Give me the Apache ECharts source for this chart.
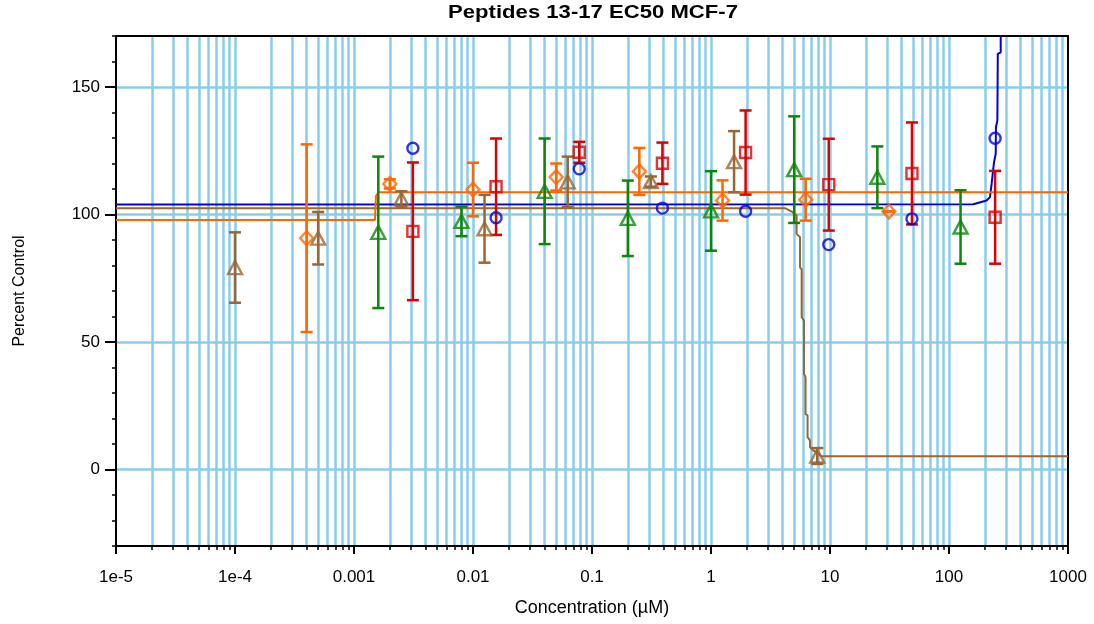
<!DOCTYPE html>
<html>
<head>
<meta charset="utf-8">
<script src="https://cdn.jsdelivr.net/npm/echarts@6/dist/echarts.min.js"></script>
<style>html,body{margin:0;padding:0;background:#fff}#c{width:1094px;height:624px}</style>
</head>
<body>
<div id="c"></div>
<script>
// ---- data ----
const titleText = 'Peptides 13-17 EC50 MCF-7';
const xName = 'Concentration (µM)';
const yName = 'Percent Control';
const xTickLabels = ['1e-5', '1e-4', '0.001', '0.01', '0.1', '1', '10', '100', '1000'];
const yTickValues = [0, 50, 100, 150];

// blue circles
const blueX = [0.003125, 0.015625, 0.078125, 0.390625, 1.953125, 9.765625, 48.828125, 244.140625];
const blueY = [126.0, 98.7, 117.9, 102.5, 101.3, 88.2, 98.3, 129.9];
// red squares
const redX = [0.003125, 0.015625, 0.078125, 0.390625, 1.953125, 9.765625, 48.828125, 244.140625];
const redY = [93.4, 110.9, 124.4, 120.1, 124.3, 111.7, 116.1, 98.9];
const redErr = [27.0, 18.9, 4.1, 8.1, 16.5, 18.0, 20.0, 18.2];
// green triangles
const greenX = [0.0016, 0.008, 0.04, 0.2, 1, 5, 25, 125];
const greenY = [93.0, 97.3, 109.1, 98.5, 101.4, 117.6, 114.6, 95.1];
const greenErr = [29.7, 5.8, 20.7, 14.8, 15.6, 20.9, 12.1, 14.4];
// orange diamonds
const orangeX = [0.0004, 0.002, 0.01, 0.05, 0.25, 1.25, 6.25, 31.25];
const orangeY = [90.7, 112.0, 109.8, 114.7, 116.9, 105.5, 105.8, 101.2];
const orangeErr = [36.8, 1.8, 10.5, 5.3, 9.2, 7.9, 8.2, 0];
// brown triangles
const brownX = [0.0001, 0.0005, 0.0025, 0.0125, 0.0625, 0.3125, 1.5625, 7.8125];
const brownY = [79.2, 90.7, 106.1, 94.4, 112.8, 112.9, 120.7, 5.3];
const brownErr = [13.8, 10.3, 3.0, 13.3, 9.9, 2.0, 12.0, 3.1];

// fitted curves (as drawn in the reference)
const blueFitX = [1e-5, 160, 207, 221, 228, 239, 247, 248, 255, 257, 272, 272];
const blueFitY = [103.9, 104.0, 105.5, 106.8, 112.0, 120.5, 123.8, 134.2, 136.9, 163.0, 163.6, 180];
const brownFitX = [1e-5, 4.19, 4.86, 5.24, 5.24, 5.6, 5.6, 5.78, 5.78, 6.05, 6.05, 6.23, 6.23, 6.48, 6.48, 6.79, 6.79, 7.25, 8.5, 1000];
const brownFitY = [102.5, 102.5, 100.9, 99.6, 92.4, 91.1, 79.3, 78.5, 59.7, 58.4, 37.5, 36.2, 21.8, 21.2, 12.7, 11.4, 8.7, 7.5, 5.2, 5.2];
const orangeFitX = [1e-5, 0.0015, 0.00153, 0.0016, 1000];
const orangeFitY = [97.8, 97.8, 107.2, 108.7, 108.7];

// ---- styles ----
const C = { blue: '#0000dd', red: '#dd0000', green: '#0a870a', orange: '#ff6600', brown: '#9a6634', grid: '#87ceeb' };
const FONT = '"Liberation Sans", Arial, sans-serif';

const zip = (xs, ys) => xs.map((x, i) => [x, ys[i]]);
const errData = (xs, ys, es) => xs.map((x, i) => [x, ys[i] - es[i], ys[i] + es[i]]);

// log grid positions 1..9 x 10^k
const logGrid = [];
for (let k = -5; k <= 2; k++) {
  for (let m = 1; m <= 9; m++) {
    const v = +(m * Math.pow(10, k)).toPrecision(3);
    if (v > 1e-5 && v < 1000) logGrid.push(v);
  }
}
const yMinor = [];
for (let v = -30; v <= 170; v += 10) yMinor.push(v);

function errSeries(name, xs, ys, es, color) {
  return {
    name: name + ' err', type: 'custom', xAxisIndex: 0, yAxisIndex: 0, z: 3,
    encode: { x: 0, y: [1, 2] },
    data: errData(xs, ys, es),
    renderItem: function (params, api) {
      const x = api.value(0);
      const lo = api.coord([x, api.value(1)]);
      const hi = api.coord([x, api.value(2)]);
      const hw = 6;
      const st = { stroke: color, lineWidth: 2.5 };
      return {
        type: 'group', children: [
          { type: 'line', shape: { x1: lo[0], y1: lo[1], x2: hi[0], y2: hi[1] }, style: st },
          { type: 'line', shape: { x1: lo[0] - hw, y1: lo[1], x2: lo[0] + hw, y2: lo[1] }, style: st },
          { type: 'line', shape: { x1: hi[0] - hw, y1: hi[1], x2: hi[0] + hw, y2: hi[1] }, style: st }
        ]
      };
    }
  };
}
function pointSeries(name, xs, ys, color, symbol, size) {
  return {
    name: name, type: 'scatter', xAxisIndex: 0, yAxisIndex: 0, z: 4,
    symbol: symbol, symbolSize: size,
    itemStyle: { color: 'rgba(0,0,0,0)', borderColor: color, borderWidth: 2.4 },
    data: zip(xs, ys)
  };
}
function fitSeries(name, xs, ys, color) {
  return {
    name: name + ' fit', type: 'line', xAxisIndex: 0, yAxisIndex: 0, z: 2,
    showSymbol: false, symbol: 'none', smooth: false, clip: true,
    lineStyle: { color: color, width: 2 },
    data: zip(xs, ys)
  };
}

const chart = echarts.init(document.getElementById('c'), null, { renderer: 'canvas' });
chart.setOption({
  animation: false,
  backgroundColor: '#fff',
  textStyle: { fontFamily: FONT },
  grid: { left: 116, right: 26, top: 36, bottom: 78, show: false },
  graphic: [{
    type: 'text', x: 593, y: 13, scaleX: 1.3, scaleY: 1.03,
    style: { text: titleText, font: 'bold 17px ' + FONT, fill: '#000', textAlign: 'center', textVerticalAlign: 'middle' }
  }],
  xAxis: [
    {
      type: 'log', logBase: 10, min: 1e-5, max: 1000, position: 'bottom',
      name: xName, nameLocation: 'middle', nameGap: 53,
      nameTextStyle: { fontSize: 18, color: '#000', fontFamily: FONT },
      axisLine: { show: true, onZero: false, lineStyle: { color: '#000', width: 2 } },
      axisTick: { show: true, length: 8, lineStyle: { color: '#000', width: 2 } },
      axisLabel: {
        fontSize: 17, color: '#000', margin: 23, fontFamily: FONT,
        formatter: function (v) { return xTickLabels[Math.round(Math.log10(v)) + 5]; }
      },
      splitLine: { show: false }, minorTick: { show: false }
    },
    {
      type: 'log', logBase: 10, min: 1e-5, max: 1000, position: 'bottom',
      axisLine: { show: false, onZero: false },
      axisTick: { show: true, length: 4, customValues: logGrid, lineStyle: { color: '#000', width: 1.5 } },
      axisLabel: { show: false },
      splitLine: { show: true, lineStyle: { color: C.grid, width: 2.5 } }
    },
    {
      type: 'log', logBase: 10, min: 1e-5, max: 1000, position: 'top', z: 1,
      axisLine: { show: true, onZero: false, lineStyle: { color: '#000', width: 2 } },
      axisTick: { show: false }, axisLabel: { show: false }, splitLine: { show: false }
    }
  ],
  yAxis: [
    {
      type: 'value', min: -30, max: 170, position: 'left',
      name: yName, nameLocation: 'middle', nameGap: 88,
      nameTextStyle: { fontSize: 16, color: '#000', fontFamily: FONT },
      axisLine: { show: true, onZero: false, lineStyle: { color: '#000', width: 2 } },
      axisTick: { show: true, length: 11, customValues: yTickValues, lineStyle: { color: '#000', width: 2 } },
      axisLabel: { fontSize: 17, color: '#000', margin: 16, customValues: yTickValues, fontFamily: FONT },
      splitLine: { show: true, lineStyle: { color: C.grid, width: 2.5 } }
    },
    {
      type: 'value', min: -30, max: 170, position: 'left',
      axisLine: { show: false, onZero: false },
      axisTick: { show: true, length: 4, customValues: yMinor, lineStyle: { color: '#000', width: 1.5 } },
      axisLabel: { show: false }, splitLine: { show: false }
    },
    {
      type: 'value', min: -30, max: 170, position: 'right', z: 1,
      axisLine: { show: true, onZero: false, lineStyle: { color: '#000', width: 2 } },
      axisTick: { show: false }, axisLabel: { show: false }, splitLine: { show: false }
    }
  ],
  series: [
    fitSeries('blue', blueFitX, blueFitY, C.blue),
    fitSeries('brown', brownFitX, brownFitY, C.brown),
    fitSeries('orange', orangeFitX, orangeFitY, C.orange),
    errSeries('red', redX, redY, redErr, C.red),
    errSeries('green', greenX, greenY, greenErr, C.green),
    errSeries('orange', orangeX, orangeY, orangeErr, C.orange),
    errSeries('brown', brownX, brownY, brownErr, C.brown),
    pointSeries('blue', blueX, blueY, C.blue, 'circle', 11),
    pointSeries('red', redX, redY, C.red, 'rect', 11),
    pointSeries('green', greenX, greenY, C.green, 'triangle', [14, 13]),
    pointSeries('orange', orangeX, orangeY, C.orange, 'diamond', [13, 14]),
    pointSeries('brown', brownX, brownY, C.brown, 'triangle', [14, 13])
  ]
});
</script>
</body>
</html>
